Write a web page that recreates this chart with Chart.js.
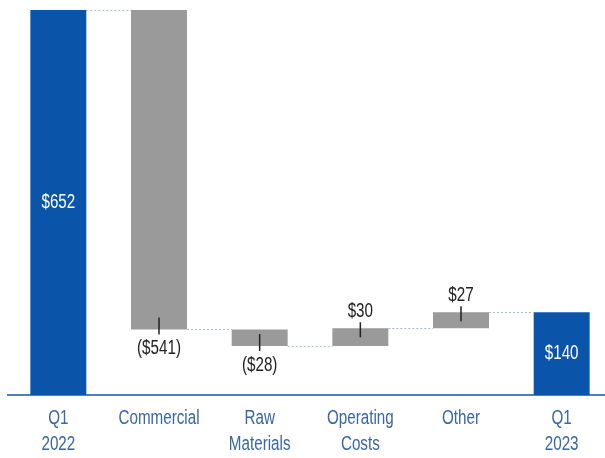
<!DOCTYPE html>
<html>
<head>
<meta charset="utf-8">
<script src="https://cdn.jsdelivr.net/npm/chart.js@4.4.1/dist/chart.umd.min.js"></script>
<style>
  html, body { margin: 0; padding: 0; background: #fff; overflow: hidden; }
  #wrap { width: 612px; height: 458px; }
</style>
</head>
<body>
<div id="wrap"><canvas id="myChart"></canvas></div>
<script>
// bridge data: start total, changes, end total
const categories = [['Q1', '2022'], ['Commercial'], ['Raw', 'Materials'], ['Operating', 'Costs'], ['Other'], ['Q1', '2023']];
const changes = [652, -541, -28, 30, 27, 140];
const isTotal = [true, false, false, false, false, true];
const valueLabels = ['$652', '($541)', '($28)', '$30', '$27', '$140'];

const BLUE = '#0a55aa';
const GREY = '#9a9a9a';
const FONT = '"Liberation Sans", Arial, sans-serif';
const NARROW = 0.76; // no narrow font installed, so squeeze the text

// floating bar ranges built from the changes
let running = 0;
const ranges = [];
const levels = [];
changes.forEach((v, i) => {
    if (isTotal[i]) {
        ranges.push([0, v]);
        running = v;
    } else {
        ranges.push([running, running + v]);
        running += v;
    }
    levels.push(running);
});

function narrowText(ctx, text, x, y) {
    ctx.save();
    ctx.translate(x, y);
    ctx.scale(NARROW, 1);
    ctx.fillText(text, 0, 0);
    ctx.restore();
}

// connectors, value labels and category labels
const bridgePlugin = {
    id: 'bridge',
    afterDatasetsDraw(chart) {
        const ctx = chart.ctx;
        const y = chart.scales.y;
        const x = chart.scales.x;
        const bars = chart.getDatasetMeta(0).data;

        ctx.save();
        ctx.strokeStyle = '#a9b9d2';
        ctx.lineWidth = 1;
        ctx.setLineDash([2, 2]);
        for (let i = 0; i < bars.length - 1; i++) {
            const py = Math.round(y.getPixelForValue(levels[i])) + 0.5;
            ctx.beginPath();
            ctx.moveTo(bars[i].x + bars[i].width / 2, py);
            ctx.lineTo(bars[i + 1].x - bars[i + 1].width / 2, py);
            ctx.stroke();
        }
        ctx.setLineDash([]);

        ctx.font = '20px ' + FONT;
        ctx.textAlign = 'center';
        ctx.textBaseline = 'middle';
        bars.forEach((bar, i) => {
            const lo = y.getPixelForValue(Math.min(...ranges[i]));
            const hi = y.getPixelForValue(Math.max(...ranges[i]));
            if (isTotal[i]) {
                ctx.fillStyle = '#ffffff';
                narrowText(ctx, valueLabels[i], bar.x, (lo + hi) / 2);
                return;
            }
            ctx.strokeStyle = '#222';
            ctx.lineWidth = 1.5;
            ctx.fillStyle = '#222';
            ctx.beginPath();
            if (changes[i] < 0) {
                ctx.moveTo(bar.x, lo - 12);
                ctx.lineTo(bar.x, lo + 5);
                ctx.stroke();
                narrowText(ctx, valueLabels[i], bar.x, lo + 19);
            } else {
                ctx.moveTo(bar.x, hi + 9);
                ctx.lineTo(bar.x, hi - 6);
                ctx.stroke();
                narrowText(ctx, valueLabels[i], bar.x, hi - 17);
            }
        });

        // category labels under the axis
        ctx.fillStyle = '#3866a8';
        const top = chart.chartArea.bottom;
        categories.forEach((lines, i) => {
            const cx = x.getPixelForTick(i);
            lines.forEach((t, j) => {
                narrowText(ctx, t, cx, top + 23 + j * 26);
            });
        });
        ctx.restore();
    }
};

const ctx = document.getElementById('myChart').getContext('2d');

const myChart = new Chart(ctx, {
    type: 'bar',
    data: {
        labels: categories,
        datasets: [{
            data: ranges,
            backgroundColor: isTotal.map(t => t ? BLUE : GREY),
            borderWidth: 0,
            borderSkipped: false,
            categoryPercentage: 1,
            barPercentage: 0.556
        }]
    },
    options: {
        responsive: true,
        maintainAspectRatio: false,
        animation: false,
        layout: {
            padding: { left: 8, top: 0, right: 0, bottom: 0 }
        },
        scales: {
            x: {
                grid: { display: false, drawTicks: false },
                border: { display: true, color: '#4f7ebf', width: 2 },
                ticks: { display: false },
                afterFit(axis) { axis.height = 63; }
            },
            y: {
                display: false,
                min: 0,
                max: 669
            }
        },
        plugins: {
            legend: { display: false },
            tooltip: { enabled: false }
        }
    },
    plugins: [bridgePlugin]
});
</script>
</body>
</html>
